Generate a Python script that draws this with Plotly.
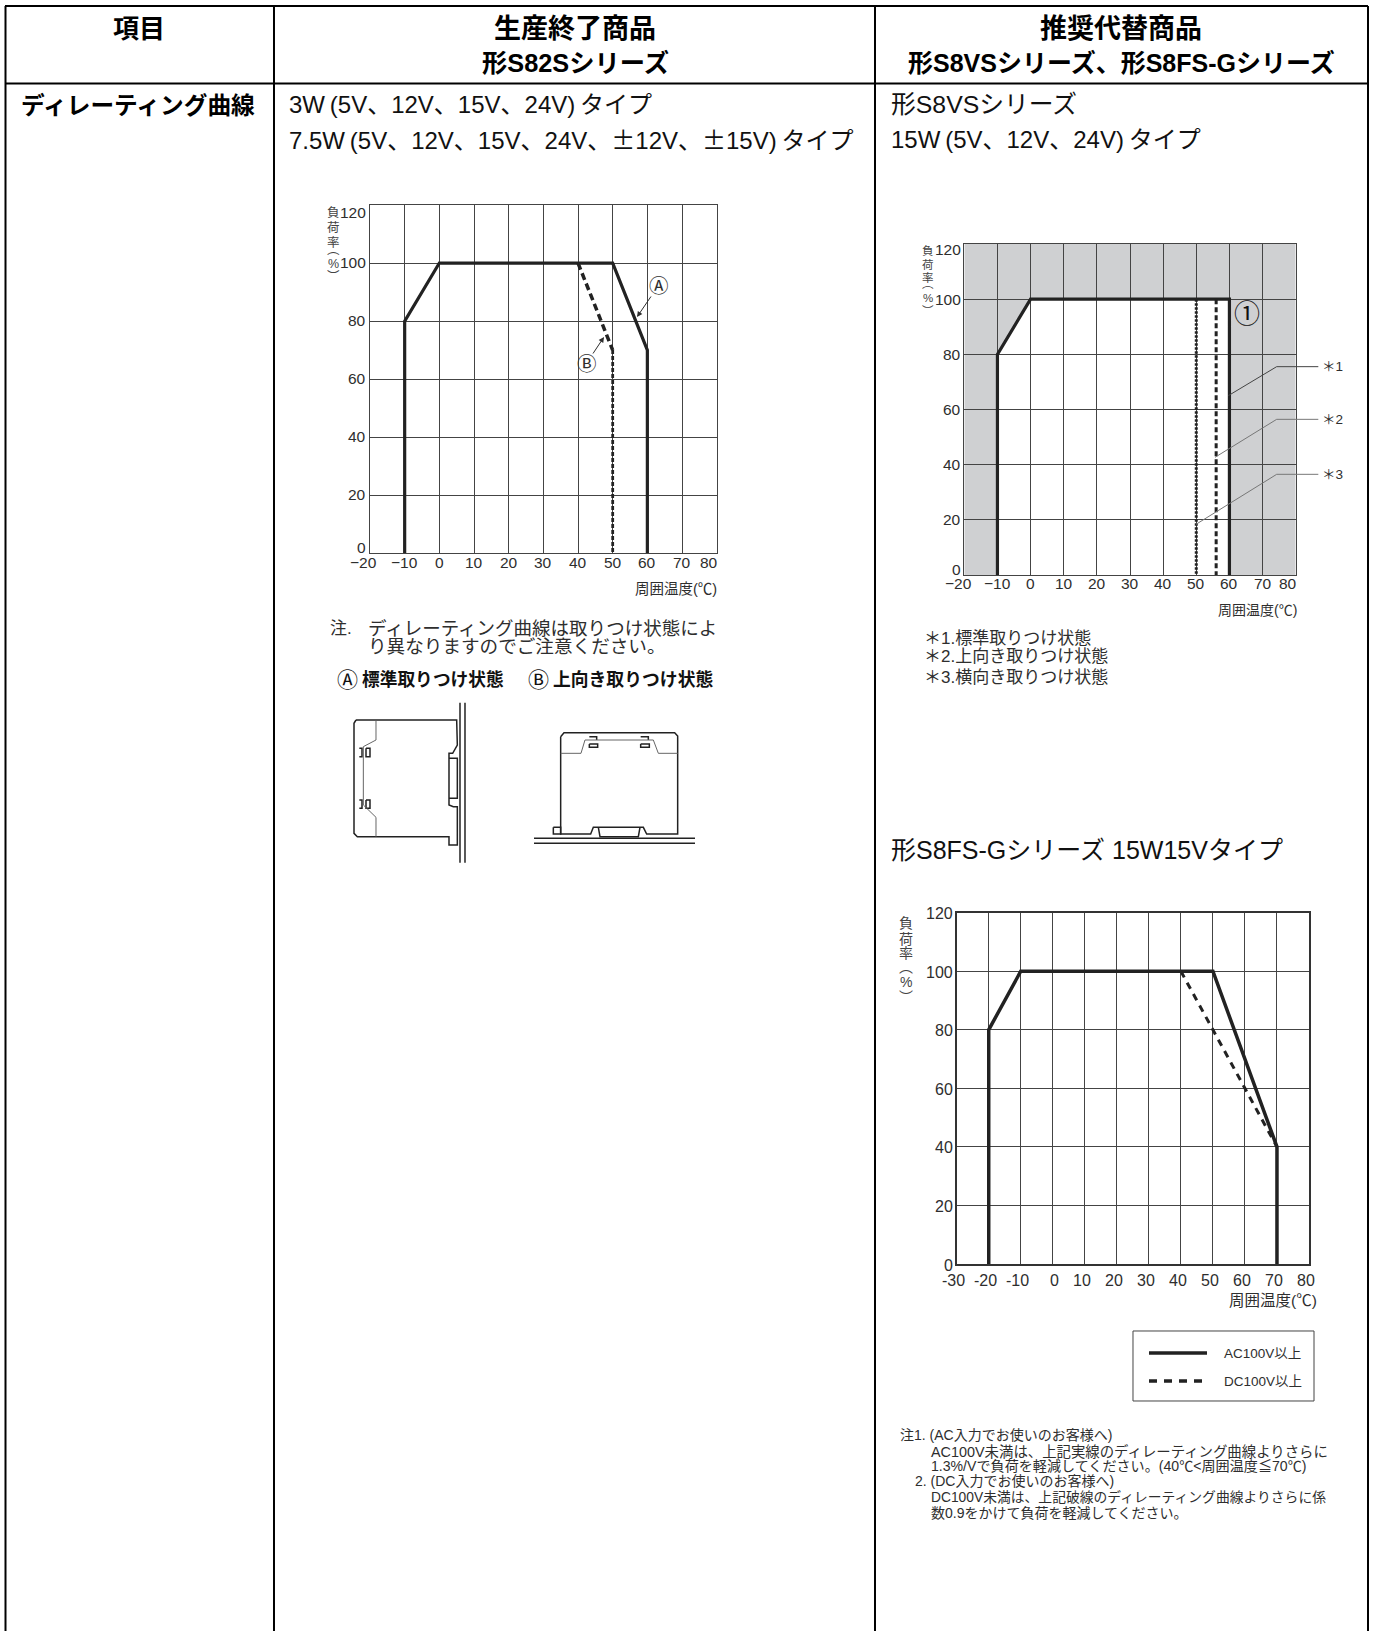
import plotly.graph_objects as go

W = 1373
H = 1631
FONT = "Liberation Sans, Noto Sans CJK JP"
INK = "#2e2e2e"
GRID = "#444444"

# shared scale values
LOAD_TICKS = [0, 20, 40, 60, 80, 100, 120]
TEMP_TICKS = [-20, -10, 0, 10, 20, 30, 40, 50, 60, 70, 80]
TEMP_LABELS = ["−20", "−10", "0", "10", "20", "30", "40", "50", "60", "70", "80"]
TEMP_TICKS_FS = [-30, -20, -10, 0, 10, 20, 30, 40, 50, 60, 70, 80]
TEMP_LABELS_FS = ["-30", "-20", "-10", "0", "10", "20", "30", "40", "50", "60", "70", "80"]

# S82S curves
S82S_A_X = [-10, -10, 0, 50, 60, 60]
S82S_A_Y = [0, 80, 100, 100, 70, 0]
S82S_B_SLOPE_X = [40, 50]
S82S_B_SLOPE_Y = [100, 70]
S82S_B_DROP_X = [50, 50]
S82S_B_DROP_Y = [70, 0]

# S8VS curves
S8VS_1_X = [-10, -10, 0, 60, 60]
S8VS_1_Y = [0, 80, 100, 100, 0]
S8VS_2_X = [56, 56]
S8VS_2_Y = [100, 0]
S8VS_3_X = [50, 50]
S8VS_3_Y = [100, 0]

# S8FS-G curves
S8FS_AC_X = [-20, -20, -10, 50, 70, 70]
S8FS_AC_Y = [0, 80, 100, 100, 40, 0]
S8FS_DC_X = [40, 70]
S8FS_DC_Y = [100, 40]

PM = "<span style=\"font-family:'Noto Sans CJK JP'\">±</span>"
LP = "\u2009("
RP = ")\u2009"


def px(x):
    return x / W


def py(y):
    return 1 - y / H


def page_text(text, x, y, size, anchor="left", color="#000000", bold=False):
    fig.add_annotation(
        x=px(x), y=py(y), xref="paper", yref="paper",
        text="<b>" + text + "</b>" if bold else text,
        showarrow=False, xanchor=anchor, yanchor="middle",
        borderpad=0, borderwidth=0,
        font={"size": size, "color": color, "family": FONT},
    )


def page_path(points, color="#000000", width=1.0, close=False, fill=None):
    path = "M " + " L ".join(f"{px(a):.5f} {py(b):.5f}" for a, b in points)
    if close:
        path += " Z"
    fig.add_shape(
        type="path", path=path, xref="paper", yref="paper",
        line={"color": color, "width": width},
        fillcolor=fill if fill else "rgba(0,0,0,0)",
    )


def zoom_path(points, ox, oy, **kwargs):
    page_path([(ox + a / 3, oy + b / 3) for a, b in points], **kwargs)


def setup_axes(n, box, xrange, xticks, border):
    x0, y0, x1, y1 = box
    axis = dict(
        showgrid=True, gridcolor=GRID, gridwidth=1.2, zeroline=False,
        showticklabels=False, ticks="", showline=True, mirror=True,
        linecolor=border[0], linewidth=border[1],
    )
    fig.update_layout({
        f"xaxis{n}": dict(axis, domain=[px(x0), px(x1)], range=xrange, tickvals=xticks,
                          anchor=f"y{n}"),
        f"yaxis{n}": dict(axis, domain=[py(y1), py(y0)], range=[0, 120], tickvals=LOAD_TICKS,
                          anchor=f"x{n}"),
    })


def curve(n, xs, ys, width=3.2, dash="solid"):
    fig.add_trace(go.Scatter(
        x=xs, y=ys, mode="lines", xaxis=f"x{n}", yaxis=f"y{n}", showlegend=False,
        line={"color": "#222222", "width": width, "dash": dash},
    ))


def tick_labels(n, xticks, xlabels, xy, right_gap, x_shift, y_shift, size=15.5):
    for val, lab in zip(xticks, xlabels):
        fig.add_annotation(
            x=val, y=0, xref=f"x{n}", yref=f"y{n}", text=lab, showarrow=False,
            xanchor="center", yanchor="middle", yshift=-xy,
            xshift=x_shift.get(lab, x_shift["*"]), borderpad=0, borderwidth=0,
            font={"size": size, "color": INK, "family": FONT},
        )
    for val in LOAD_TICKS:
        fig.add_annotation(
            x=xticks[0], y=val, xref=f"x{n}", yref=f"y{n}", text=str(val), showarrow=False,
            xanchor="right", yanchor="middle", xshift=-right_gap,
            yshift=y_shift.get(val, y_shift["*"]), borderpad=0, borderwidth=0,
            font={"size": size, "color": INK, "family": FONT},
        )


def stacked_label(x, ys, size=13):
    # the vertical brackets sit off-centre in their em box, hence the extra offsets
    for ch, y, nudge in zip(["負", "荷", "率", "︵", "%", "︶"], ys, [0, 0, 0, -5, 0, 5]):
        page_text(ch, x, y + nudge, size, anchor="center", color="#444444")


fig = go.Figure()

# ---------- page table ----------
for pts in [
    [(5, 6), (1368, 6)], [(5, 83.5), (1368, 83.5)],
    [(5.5, 6), (5.5, H)], [(274, 6), (274, H)], [(875, 6), (875, H)], [(1368, 6), (1368, H)],
]:
    page_path(pts, width=2)

page_text("項目", 139, 29, 26, "center", bold=True)
page_text("生産終了商品", 575, 29, 27, "center", bold=True)
page_text("形S82Sシリーズ", 575, 63, 25.3, "center", bold=True)
page_text("推奨代替商品", 1121, 29, 27, "center", bold=True)
page_text("形S8VSシリーズ、形S8FS-Gシリーズ", 1121, 63, 25, "center", bold=True)
page_text("ディレーティング曲線", 21, 106, 23.7, bold=True)
page_text("3W" + LP + "5V、12V、15V、24V" + RP + "タイプ", 289, 105, 24, color="#111111")
page_text("7.5W" + LP + "5V、12V、15V、24V、" + PM + "12V、" + PM + "15V" + RP + "タイプ",
          289, 138.5, 24, color="#111111")
page_text("形S8VSシリーズ", 891, 105, 24.8, color="#111111")
page_text("15W" + LP + "5V、12V、24V" + RP + "タイプ", 891, 140, 24, color="#111111")
page_text("形S8FS-Gシリーズ 15W15Vタイプ", 891, 850, 25, color="#111111")

# ---------- S82S chart ----------
setup_axes("", (370, 205, 716.7, 553.3), [-20, 80], TEMP_TICKS, (GRID, 1.2))
curve("", S82S_A_X, S82S_A_Y)
curve("", S82S_B_SLOPE_X, S82S_B_SLOPE_Y, width=3.5, dash="7px,4px")
curve("", S82S_B_DROP_X, S82S_B_DROP_Y, width=2.8, dash="4px,2px")
tick_labels("", TEMP_TICKS, TEMP_LABELS, 9,
            4, {"*": 0, "−20": -7, "80": -8}, {"*": 1, 120: -7, 0: 6})
stacked_label(333, [213, 228, 243, 255, 264, 272], size=12.5)
page_text("周囲温度(℃)", 716.7, 589, 14.5, "right", INK)
page_text("Ⓐ", 658.7, 286, 19.5, "center", INK)
page_text("Ⓑ", 587, 364, 19.5, "center", INK)
fig.add_annotation(x=px(637), y=py(317), ax=15, ay=-22, xref="paper", yref="paper",
                   text="", arrowhead=2, arrowsize=1.1, arrowwidth=1, arrowcolor=INK)
fig.add_annotation(x=px(604), y=py(337), ax=-12, ay=18, xref="paper", yref="paper",
                   text="", arrowhead=2, arrowsize=1.1, arrowwidth=1, arrowcolor=INK)
page_text("注.", 330, 628, 17, color=INK)
page_text("ディレーティング曲線は取りつけ状態によ", 368, 628, 18.5, color=INK)
page_text("り異なりますのでご注意ください。", 368, 647, 18.6, color=INK)
page_text("Ⓐ", 347, 679, 21, "center", "#111111")
page_text("標準取りつけ状態", 362, 679, 17.7, color="#111111", bold=True)
page_text("Ⓑ", 538, 679, 21, "center", "#111111")
page_text("上向き取りつけ状態", 553, 679, 17.8, color="#111111", bold=True)

# mounting sketches (side view)
for pts in [
    [(480, 338), (480, 818)], [(495, 338), (495, 818)],
    [(168, 390), (470, 390), (472, 465), (458, 490), (447, 490), (447, 645),
     (460, 650), (472, 650), (472, 765), (447, 765), (447, 740), (172, 740),
     (162, 730), (162, 400), (168, 390)],
    [(447, 505), (472, 505), (472, 625), (447, 625)],
    [(178, 475), (186, 475), (186, 500), (178, 500)],
    [(198, 475), (210, 475), (210, 500), (198, 500), (198, 475)],
    [(178, 630), (186, 630), (186, 655), (178, 655)],
    [(198, 630), (210, 630), (210, 655), (198, 655), (198, 630)],
    [(782, 440), (792, 428), (1124, 428), (1133, 438), (1133, 732), (1040, 732), (1030, 712),
     (880, 712), (872, 732), (782, 732), (782, 440)],
    [(760, 712), (782, 712), (782, 732), (760, 732), (760, 712)],
    [(895, 712), (900, 740), (1015, 740), (1020, 712)],
    [(868, 440), (890, 440), (890, 450)],
    [(868, 462), (893, 462), (893, 472), (868, 472), (868, 462)],
    [(1022, 440), (1045, 440), (1045, 450)],
    [(1022, 462), (1048, 462), (1048, 472), (1022, 472), (1022, 462)],
    [(702, 745), (1185, 745)], [(702, 760), (1185, 760)],
]:
    zoom_path(pts, 300, 590, color="#222222", width=1.5)
for pts in [
    [(228, 392), (228, 450), (190, 470), (190, 645), (228, 682), (228, 740)],
    [(782, 490), (843, 490), (855, 450), (1060, 450), (1075, 490), (1133, 490)],
]:
    zoom_path(pts, 300, 590, color="#666666", width=1)

# ---------- S8VS chart ----------
setup_axes(2, (964.3, 244, 1295.7, 575), [-20, 80], TEMP_TICKS, (GRID, 1.2))
fig.update_layout(plot_bgcolor="rgba(0,0,0,0)")
fig.add_shape(type="rect", x0=-20, x1=80, y0=0, y1=120, xref="x2", yref="y2", layer="below",
              line={"width": 0}, fillcolor="#cfd0d2")
fig.add_shape(type="path", xref="x2", yref="y2", layer="below", line={"width": 0},
              fillcolor="#ffffff",
              path="M " + " L ".join(f"{a} {b}" for a, b in zip(S8VS_1_X, S8VS_1_Y)) + " Z")
curve(2, S8VS_1_X, S8VS_1_Y)
curve(2, S8VS_2_X, S8VS_2_Y, width=3, dash="5px,3px")
curve(2, S8VS_3_X, S8VS_3_Y, width=3, dash="2.5px,1.5px")
tick_labels(2, TEMP_TICKS, TEMP_LABELS, 9,
            3, {"*": 0, "−20": -6, "80": -8}, {"*": 0, 120: -6, 0: 5})
stacked_label(928, [251, 265, 278, 289, 298, 306], size=11.5)
page_text("周囲温度(℃)", 1296.5, 610, 14, "right", INK)
page_text("①", 1246.7, 314, 26, "center", "#111111")
zoom_path([(985, 527), (1130, 440), (1255, 440)], 900, 220, color="#444444", width=1)
zoom_path([(945, 712), (1130, 598), (1255, 598)], 900, 220, color="#777777", width=1)
zoom_path([(888, 913), (1130, 763), (1255, 763)], 900, 220, color="#777777", width=1)
page_text("＊1", 1322, 366.5, 13.5, color=INK)
page_text("＊2", 1322, 419.5, 13.5, color=INK)
page_text("＊3", 1322, 474.5, 13.5, color=INK)
page_text("＊1.標準取りつけ状態", 924, 638, 17, color=INK)
page_text("＊2.上向き取りつけ状態", 924, 657, 17, color=INK)
page_text("＊3.横向き取りつけ状態", 924, 677, 17, color=INK)

# ---------- S8FS-G chart ----------
setup_axes(3, (956.7, 912.7, 1309, 1264), [-30, 80], TEMP_TICKS_FS, ("#333333", 2))
curve(3, S8FS_AC_X, S8FS_AC_Y, width=3.5)
curve(3, S8FS_DC_X, S8FS_DC_Y, width=3, dash="7px,6px")
tick_labels(3, TEMP_TICKS_FS, TEMP_LABELS_FS, 16,
            4, {"*": -3, "0": 2}, {"*": -1}, size=16)
stacked_label(906, [923, 939, 953, 972, 982, 992], size=14)
page_text("周囲温度(℃)", 1317, 1300, 15.5, "right", INK)

page_path([(1133, 1331), (1314, 1331), (1314, 1401), (1133, 1401), (1133, 1331)],
          color="#444444", width=1)
page_path([(1149, 1353), (1207, 1353)], color="#222222", width=3.5)
fig.add_shape(type="line", x0=px(1149), x1=px(1207), y0=py(1381), y1=py(1381),
              xref="paper", yref="paper",
              line={"color": "#222222", "width": 3.5, "dash": "8px,7px"})
page_text("AC100V以上", 1224, 1353, 13.5, color=INK)
page_text("DC100V以上", 1224, 1381, 13.5, color=INK)

page_text("注1. (AC入力でお使いのお客様へ)", 900, 1435, 14, color=INK)
page_text("AC100V未満は、上記実線のディレーティング曲線よりさらに", 931, 1451, 14.4, color=INK)
page_text("1.3%/Vで負荷を軽減してください。(40℃<周囲温度≦70℃)", 931, 1466, 14.1, color=INK)
page_text("2. (DC入力でお使いのお客様へ)", 915, 1481, 14, color=INK)
page_text("DC100V未満は、上記破線のディレーティング曲線よりさらに係", 931, 1497, 13.8, color=INK)
page_text("数0.9をかけて負荷を軽減してください。", 931, 1513, 14, color=INK)

fig.update_layout(
    width=W, height=H, autosize=False,
    margin={"l": 0, "r": 0, "t": 0, "b": 0},
    paper_bgcolor="#ffffff",
    showlegend=False,
)

fig.write_html("out.html", config={"displayModeBar": False},
               post_script="document.body.style.margin='0';")
